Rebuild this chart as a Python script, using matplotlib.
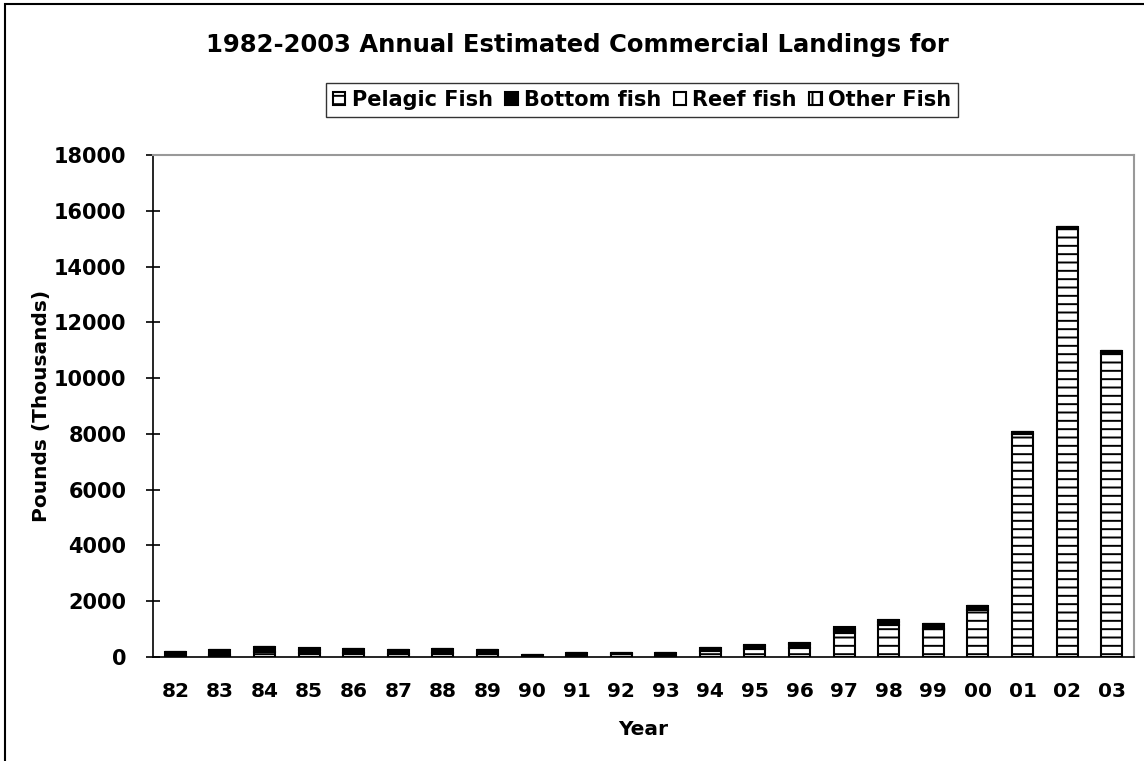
import numpy as np
import matplotlib
matplotlib.use("Agg")
import matplotlib.pyplot as plt
from matplotlib.patches import Rectangle

# Dữ liệu (nghìn pound)
years = ["82", "83", "84", "85", "86", "87", "88", "89", "90", "91", "92",
         "93", "94", "95", "96", "97", "98", "99", "00", "01", "02", "03"]
pelagic = [0, 80, 190, 130, 130, 100, 130, 100, 0, 0, 100,
           0, 230, 270, 310, 870, 1150, 1000, 1685, 7980, 15340, 10900]
bottom = [190, 170, 170, 120, 170, 150, 170, 150, 60, 130, 30,
          130, 80, 110, 140, 60, 100, 170, 155, 80, 70, 70]
reef = [0, 0, 0, 60, 0, 0, 0, 0, 0, 0, 0,
        0, 0, 50, 40, 80, 60, 0, 0, 0, 0, 0]
other = [0, 0, 0, 0, 0, 0, 0, 0, 0, 0, 0,
         0, 0, 0, 0, 50, 30, 0, 0, 0, 0, 0]

series = [("Pelagic Fish", pelagic, "white", "--"),
          ("Bottom fish", bottom, "black", None),
          ("Reef fish", reef, "white", None),
          ("Other Fish", other, "white", "||")]

plt.rcParams["font.family"] = "DejaVu Sans"
plt.rcParams["font.weight"] = "bold"
plt.rcParams["hatch.linewidth"] = 1.4

fig = plt.figure(figsize=(11.44, 7.61), dpi=100)
ax = fig.add_axes([153 / 1144, 1 - 657 / 761, 981 / 1144, 502 / 761])

x = np.arange(len(years))
base = np.zeros(len(years))
for name, vals, color, hatch in series:
    vals = np.array(vals, dtype=float)
    ax.bar(x, vals, 0.47, bottom=base, color=color, edgecolor="black",
           linewidth=1.5, hatch=hatch, label=name)
    base += vals

ax.set_xlim(-0.5, len(years) - 0.5)
ax.set_ylim(0, 18000)
ax.set_yticks(np.arange(0, 18001, 2000))
ax.set_xticks(x)
ax.set_xticklabels(years)
ax.tick_params(axis="x", length=0, pad=18, labelsize=14.5)
ax.tick_params(axis="y", direction="inout", length=10, width=1.2, pad=14, labelsize=15)
for lab in ax.get_xticklabels() + ax.get_yticklabels():
    lab.set_fontweight("bold")

ax.spines["left"].set_linewidth(1.2)
ax.spines["bottom"].set_linewidth(1.2)
ax.spines["top"].set_color("#999999")
ax.spines["right"].set_color("#999999")
ax.spines["top"].set_linewidth(1.5)
ax.spines["right"].set_linewidth(1.5)

ax.set_xlabel("Year", fontsize=14.5, fontweight="bold", labelpad=14)
fig.text(42 / 1144, 1 - 406 / 761, "Pounds (Thousands)", rotation=90,
         ha="center", va="center", fontsize=14.5, fontweight="bold")
fig.text(577 / 1144, 1 - 45 / 761, "1982-2003 Annual Estimated Commercial Landings for",
         ha="center", va="center", fontsize=17.5, fontweight="bold")

leg = fig.legend(loc="center", bbox_to_anchor=(642 / 1144, 1 - 100 / 761), ncol=4,
                 frameon=True, fancybox=False, edgecolor="black", fontsize=15,
                 handlelength=0.6, handleheight=0.6, handletextpad=0.3,
                 columnspacing=0.6, borderpad=0.35)
leg.get_frame().set_linewidth(1.0)
for t in leg.get_texts():
    t.set_fontweight("bold")

# khung ngoài
fig.patches.append(Rectangle((5 / 1144, -0.1), 1.2, 1 - 4 / 761 + 0.1,
                             transform=fig.transFigure, fill=False,
                             edgecolor="black", linewidth=1.5))

fig.savefig("out.png", dpi=100)
